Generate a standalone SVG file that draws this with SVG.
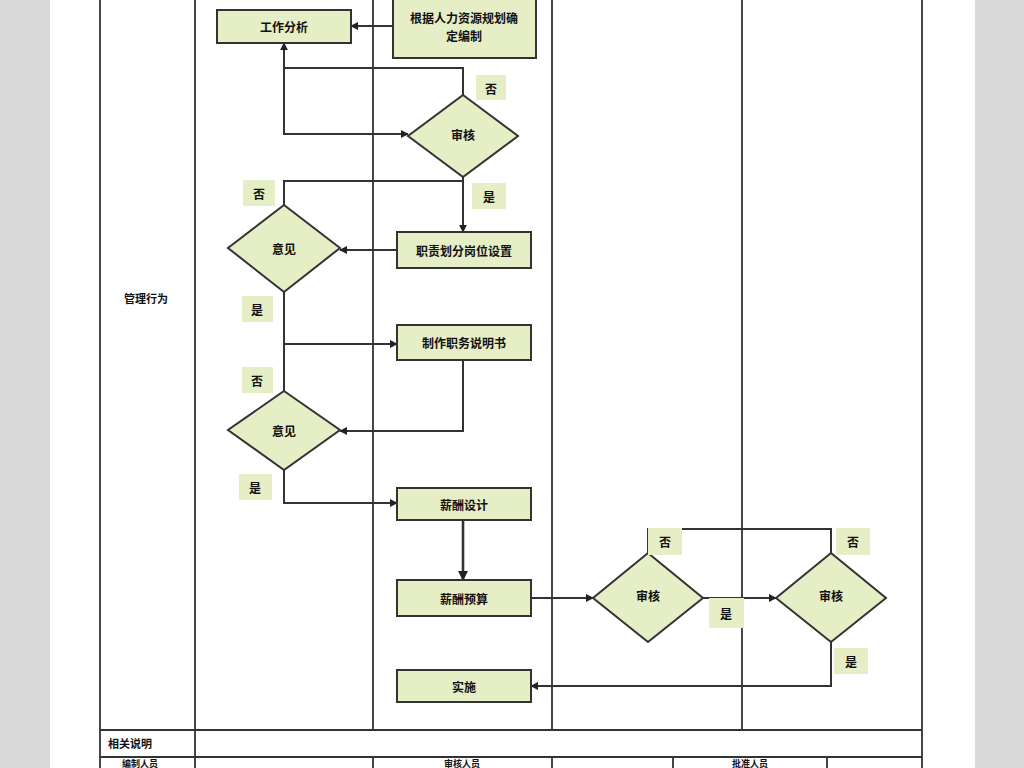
<svg xmlns="http://www.w3.org/2000/svg" width="1024" height="768" viewBox="0 0 1024 768">
<defs>
<style>
.grid{stroke:#333;stroke-width:1.8;fill:none}
.node{fill:#e5eec5;stroke:#333;stroke-width:2}
.lbl{fill:#e5eec5;stroke:none}
.t{font-family:"Noto Sans CJK SC","Liberation Sans",sans-serif;font-size:12px;font-weight:bold;fill:#111;text-anchor:middle;dominant-baseline:central}
.c{stroke:#333;stroke-width:2;fill:none}
</style>
<marker id="ah" viewBox="0 0 10 10" refX="9" refY="5" markerWidth="4" markerHeight="4" orient="auto">
<path d="M0,0 L10,5 L0,10 z" fill="#222"/>
</marker>
</defs>
<rect x="0" y="0" width="1024" height="768" fill="#ffffff"/>
<rect x="0" y="0" width="50" height="768" fill="#dadada"/>
<rect x="975" y="0" width="49" height="768" fill="#dadada"/>
<g id="table">
<path class="grid" d="M100,0V768 M922,0V768 M195,0V768 M373,0V730 M552,0V730 M742,0V730 M100,730H922 M100,757H922 M373,757V768 M552,757V768 M673,757V768 M827,757V768"/>
<text class="t" x="146" y="298" style="font-size:11px">管理行为</text>
<text class="t" x="130" y="743" style="font-size:11px">相关说明</text>
<text class="t" x="140" y="763" style="font-size:9px">编制人员</text>
<text class="t" x="462" y="763" style="font-size:9px">审核人员</text>
<text class="t" x="750" y="763" style="font-size:9px">批准人员</text>
</g>
<g id="connectors">
<path class="c" d="M393,26H351" marker-end="url(#ah)"/>
<path class="c" d="M463,95V68H284V43" marker-end="url(#ah)"/>
<path class="c" d="M284,68V134H408" marker-end="url(#ah)"/>
<path class="c" d="M284,205V181H463"/>
<path class="c" d="M463,177V232" marker-end="url(#ah)"/>
<path class="c" d="M397,250H340" marker-end="url(#ah)"/>
<path class="c" d="M284,292V391"/>
<path class="c" d="M284,344H397" marker-end="url(#ah)"/>
<path class="c" d="M463,360V431H340" marker-end="url(#ah)"/>
<path class="c" d="M284,470V503H397" marker-end="url(#ah)"/>
<path class="c" d="M463,520V580" style="stroke-width:2.6" marker-end="url(#ah)"/>
<path class="c" d="M648,553V529H831V553"/>
<path class="c" d="M531,598H593" marker-end="url(#ah)"/>
<path class="c" d="M703,598H776" marker-end="url(#ah)"/>
<path class="c" d="M831,642V686H531" marker-end="url(#ah)"/>
</g>
<g id="n-gzfx"><rect class="node" x="217" y="10" width="134" height="33"/><text class="t" x="284" y="26">工作分析</text></g>
<g id="n-gjbz"><rect class="node" x="393" y="-10" width="143" height="68"/><text class="t" x="464" y="17">根据人力资源规划确</text><text class="t" x="464" y="35">定编制</text></g>
<g id="n-sh1"><polygon class="node" points="463,95 518,136 463,177 408,136"/><text class="t" x="463" y="134">审核</text></g>
<g id="l-f1"><rect class="lbl" x="476" y="75" width="30" height="25"/><text class="t" x="491" y="88">否</text></g>
<g id="l-s1"><rect class="lbl" x="472" y="183" width="34" height="26"/><text class="t" x="489" y="196">是</text></g>
<g id="l-f2"><rect class="lbl" x="243" y="180" width="32" height="26"/><text class="t" x="259" y="193">否</text></g>
<g id="n-yj1"><polygon class="node" points="284,205 340,248 284,292 228,248"/><text class="t" x="284" y="248">意见</text></g>
<g id="n-zzhf"><rect class="node" x="397" y="232" width="134" height="36"/><text class="t" x="464" y="250">职责划分岗位设置</text></g>
<g id="l-s2"><rect class="lbl" x="242" y="296" width="31" height="26"/><text class="t" x="257" y="309">是</text></g>
<g id="n-zzsm"><rect class="node" x="397" y="325" width="134" height="35"/><text class="t" x="464" y="342">制作职务说明书</text></g>
<g id="l-f3"><rect class="lbl" x="242" y="367" width="31" height="26"/><text class="t" x="257" y="380">否</text></g>
<g id="n-yj2"><polygon class="node" points="284,391 340,430 284,470 228,430"/><text class="t" x="284" y="430">意见</text></g>
<g id="l-s3"><rect class="lbl" x="239" y="474" width="33" height="26"/><text class="t" x="255" y="487">是</text></g>
<g id="n-xcsj"><rect class="node" x="397" y="488" width="134" height="32"/><text class="t" x="464" y="504">薪酬设计</text></g>
<g id="n-xcys"><rect class="node" x="397" y="580" width="134" height="36"/><text class="t" x="464" y="598">薪酬预算</text></g>
<g id="n-ss"><rect class="node" x="397" y="670" width="134" height="32"/><text class="t" x="464" y="686">实施</text></g>
<g id="n-sh2"><polygon class="node" points="648,553 703,598 648,642 593,598"/><text class="t" x="648" y="595">审核</text></g>
<g id="l-f4"><rect class="lbl" x="648" y="528" width="34" height="27"/><text class="t" x="665" y="541">否</text></g>
<g id="l-s4"><rect class="lbl" x="709" y="598" width="35" height="30"/><text class="t" x="726" y="613">是</text></g>
<g id="n-sh3"><polygon class="node" points="831,553 886,598 831,642 776,598"/><text class="t" x="831" y="595">审核</text></g>
<g id="l-f5"><rect class="lbl" x="836" y="528" width="34" height="27"/><text class="t" x="853" y="541">否</text></g>
<g id="l-s5"><rect class="lbl" x="834" y="648" width="34" height="26"/><text class="t" x="851" y="661">是</text></g>
</svg>
